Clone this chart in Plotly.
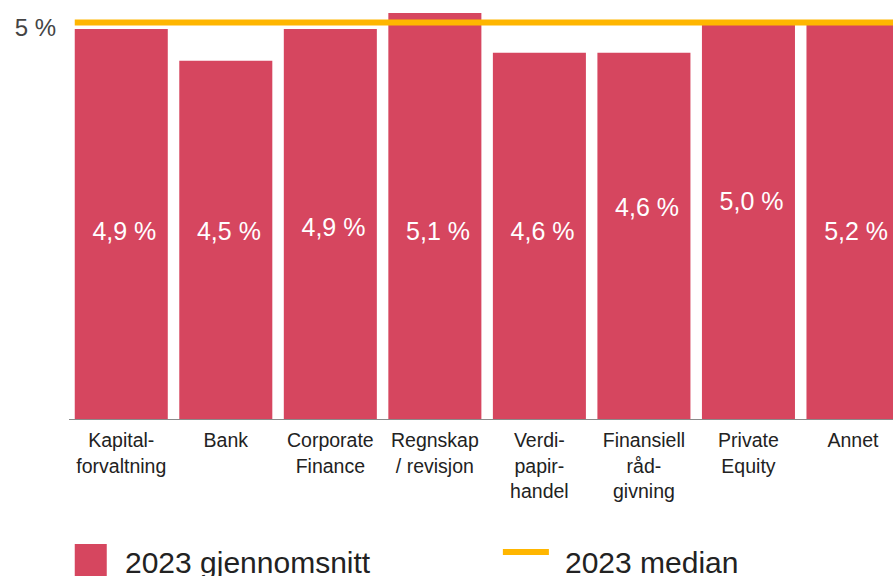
import plotly.graph_objects as go

# ---- data ----
categories = ["Kapital-<br>forvaltning", "Bank", "Corporate<br>Finance", "Regnskap<br>/ revisjon",
              "Verdi-<br>papir-<br>handel", "Finansiell<br>råd-<br>givning", "Private<br>Equity", "Annet"]
bar_heights = [4.9, 4.5, 4.9, 5.1, 4.6, 4.6, 5.0, 4.97]   # heights as drawn in the picture
bar_labels = ["4,9 %", "4,5 %", "4,9 %", "5,1 %", "4,6 %", "4,6 %", "5,0 %", "5,2 %"]
median_value = 4.98
y_tick_vals = [5]
y_tick_text = ["5 %"]
legend_names = ["2023 gjennomsnitt", "2023 median"]

# ---- style / placement ----
label_y = [2.33, 2.33, 2.38, 2.33, 2.33, 2.63, 2.70, 2.33]
BAR = "#D6465F"
MED = "#FFB600"
FONT = "Liberation Sans, Arial, Helvetica, sans-serif"

x_idx = list(range(len(categories)))

fig = go.Figure()
fig.add_trace(go.Bar(x=x_idx, y=bar_heights, marker=dict(color=BAR, line=dict(width=0)),
                     width=0.89, name=legend_names[0], showlegend=False, hoverinfo="skip"))
fig.add_trace(go.Scatter(x=[i + 0.03 for i in x_idx], y=label_y, mode="text", text=bar_labels,
                         textfont=dict(color="white", size=25, family=FONT),
                         showlegend=False, hoverinfo="skip"))
fig.add_trace(go.Scatter(x=[-0.445, len(categories)], y=[median_value, median_value], mode="lines",
                         line=dict(color=MED, width=6), name=legend_names[1],
                         showlegend=False, hoverinfo="skip"))

W, H = 893, 576
L, B = 69.25, 157
pw = W - L
ph = H - B
pitch = 104.5
xmax = -0.5 + pw / pitch

def px(xpix):
    return (xpix - L) / pw

def py(ypix):
    return (ph - ypix) / ph

# manual legend
fig.add_shape(type="rect", xref="paper", yref="paper", x0=px(75), x1=px(107), y0=py(544), y1=py(590),
              fillcolor=BAR, line=dict(width=0))
fig.add_annotation(xref="paper", yref="paper", x=px(123), y=py(562), xanchor="left", yanchor="middle",
                   text=legend_names[0], showarrow=False, font=dict(size=30, color="#222", family=FONT))
fig.add_shape(type="line", xref="paper", yref="paper", x0=px(503), x1=px(549), y0=py(552), y1=py(552),
              line=dict(color=MED, width=6))
fig.add_annotation(xref="paper", yref="paper", x=px(563), y=py(562), xanchor="left", yanchor="middle",
                   text=legend_names[1], showarrow=False, font=dict(size=30, color="#222", family=FONT))

fig.update_layout(
    width=W, height=H,
    margin=dict(l=L, r=0, t=0, b=B, pad=0),
    paper_bgcolor="white", plot_bgcolor="white",
    font=dict(family=FONT, color="#222"),
    bargap=0.11,
    xaxis=dict(range=[-0.5, xmax], tickmode="array", tickvals=x_idx, ticktext=categories,
               showgrid=False, zeroline=False, showline=True, linecolor="#8a8a8a", linewidth=1,
               ticks="", tickfont=dict(size=19.5, color="#222", family=FONT), tickangle=0,
               ticklabelstandoff=4, fixedrange=True),
    yaxis=dict(range=[0, ph / 79.6], tickmode="array", tickvals=y_tick_vals, ticktext=y_tick_text,
               showgrid=False, zeroline=False, showline=False, ticks="",
               tickfont=dict(size=24, color="#444", family=FONT), ticklabelshift=7,
               ticklabelstandoff=12, fixedrange=True),
)
fig.write_html("out.html", config={"displayModeBar": False})
